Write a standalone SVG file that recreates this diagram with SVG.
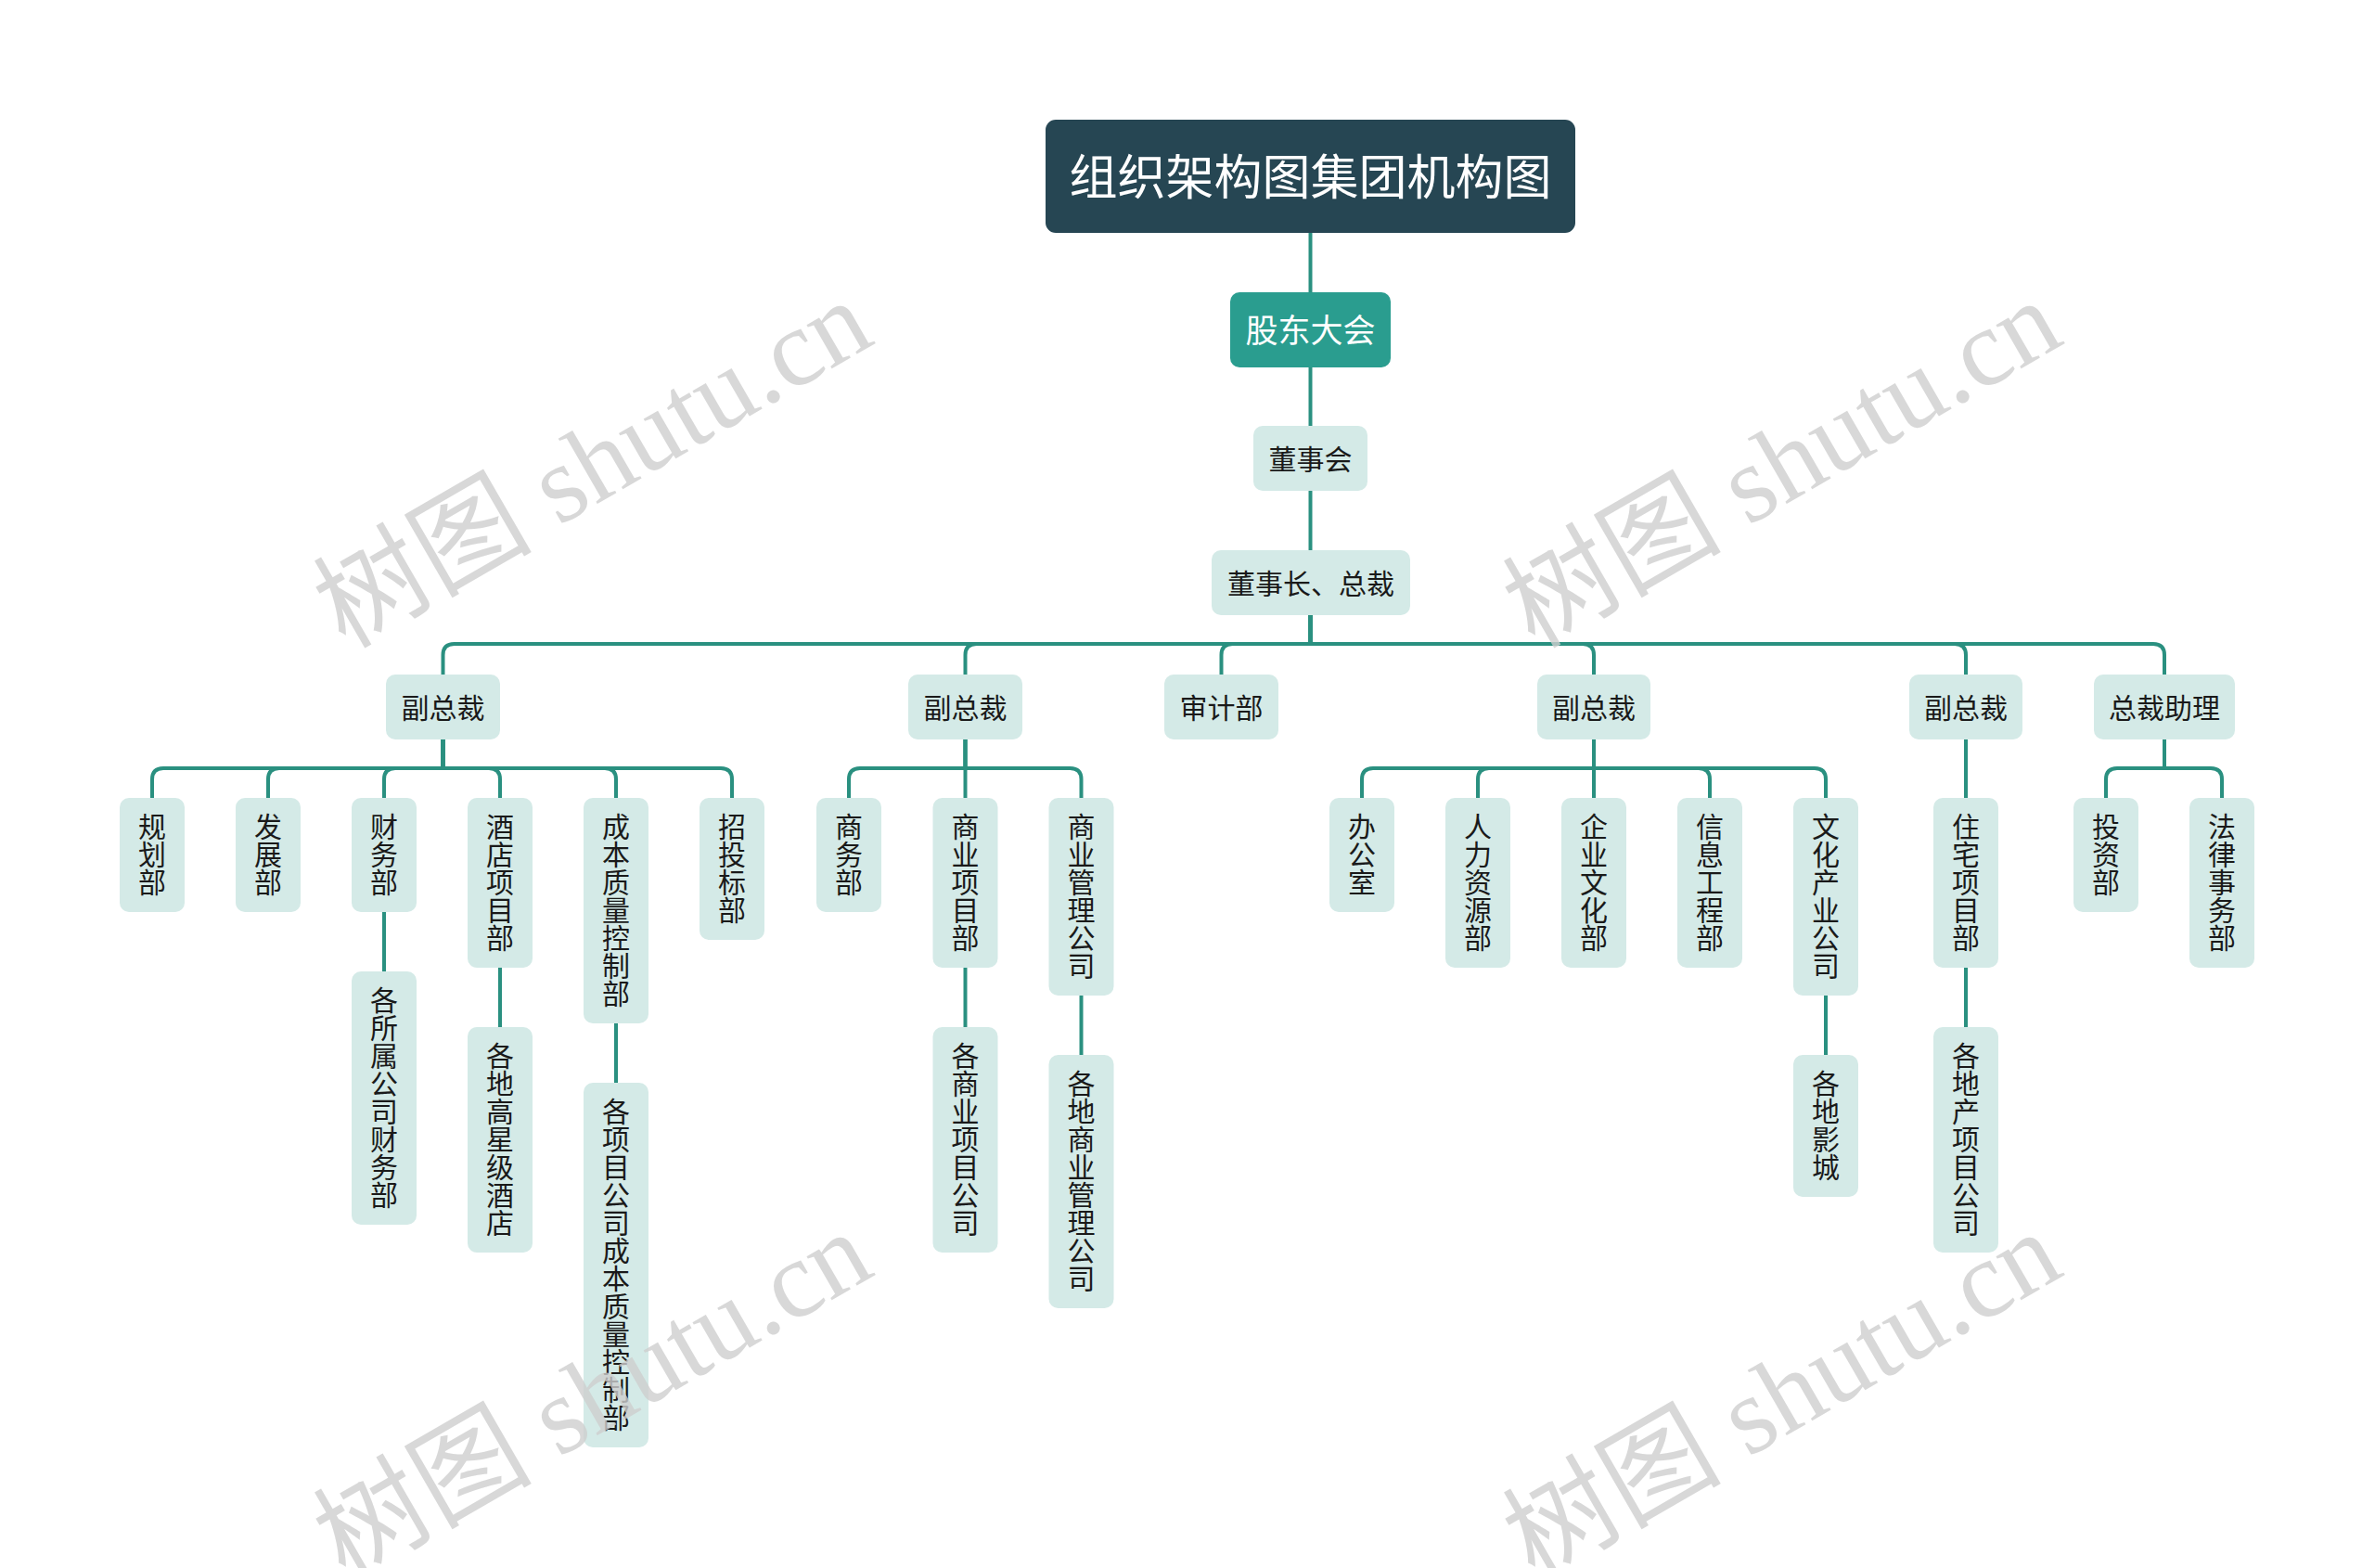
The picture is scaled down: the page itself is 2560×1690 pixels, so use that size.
<svg xmlns="http://www.w3.org/2000/svg" width="2560" height="1690" viewBox="0 0 2560 1690">
<style>
.lt{fill:#d4eae7}
.t{font-family:"Noto Sans CJK SC","Noto Sans",sans-serif;font-size:30px;fill:#1a1a1a;text-anchor:middle}
.v{font-family:"Noto Sans CJK SC","Noto Sans",sans-serif;font-size:30px;fill:#1a1a1a;writing-mode:vertical-rl;text-anchor:start}
.c path{fill:none;stroke:#2a9080;stroke-width:4;stroke-linecap:butt}
.wm{font-family:"Liberation Serif","Noto Sans CJK SC",serif;font-size:118px;fill:#cfcfcf;opacity:0.8}
</style>
<rect width="2560" height="1690" fill="#ffffff"/>
<g class="c" id="connectors">
<path d="M1412.5 251V315"/>
<path d="M1412.5 396V459"/>
<path d="M1412.5 529V593"/>
<path d="M1412.5 663V694H489.5Q477.5 694 477.5 706V727"/>
<path d="M1412.5 663V694H1052.5Q1040.5 694 1040.5 706V727"/>
<path d="M1412.5 663V694H1328.5Q1316.5 694 1316.5 706V727"/>
<path d="M1412.5 663V694H1706Q1718 694 1718 706V727"/>
<path d="M1412.5 663V694H2107Q2119 694 2119 706V727"/>
<path d="M1412.5 663V694H2321Q2333 694 2333 706V727"/>
<path d="M477.5 797V828H176Q164 828 164 840V860"/>
<path d="M477.5 797V828H301Q289 828 289 840V860"/>
<path d="M477.5 797V828H426Q414 828 414 840V860"/>
<path d="M477.5 797V828H527Q539 828 539 840V860"/>
<path d="M477.5 797V828H652Q664 828 664 840V860"/>
<path d="M477.5 797V828H777Q789 828 789 840V860"/>
<path d="M1040.5 797V828H927Q915 828 915 840V860"/>
<path d="M1040.5 797V860"/>
<path d="M1040.5 797V828H1153.5Q1165.5 828 1165.5 840V860"/>
<path d="M1718 797V828H1480Q1468 828 1468 840V860"/>
<path d="M1718 797V828H1605Q1593 828 1593 840V860"/>
<path d="M1718 797V860"/>
<path d="M1718 797V828H1831Q1843 828 1843 840V860"/>
<path d="M1718 797V828H1956Q1968 828 1968 840V860"/>
<path d="M2119 797V860"/>
<path d="M2333 797V828H2282Q2270 828 2270 840V860"/>
<path d="M2333 797V828H2383Q2395 828 2395 840V860"/>
<path d="M414 983V1047"/>
<path d="M539 1043V1107"/>
<path d="M664 1103V1167"/>
<path d="M1040.5 1043V1107"/>
<path d="M1165.5 1073V1137"/>
<path d="M1968 1073V1137"/>
<path d="M2119 1043V1107"/>
</g>

<g id="root"><rect x="1127" y="129" width="571" height="122" rx="11" fill="#264653"/><text class="t" x="1412.5" y="210" style="font-size:52px;fill:#ffffff">组织架构图集团机构图</text></g>
<g id="gudong"><rect x="1326" y="315" width="173" height="81" rx="10" fill="#2a9d8f"/><text class="t" x="1412.5" y="368.5" style="font-size:35px;fill:#ffffff">股东大会</text></g>
<g id="dongshihui"><rect class="lt" x="1351" y="459" width="123" height="70" rx="10"/><text class="t" x="1412.5" y="505.5">董事会</text></g>
<g id="dongshizhang"><rect class="lt" x="1306" y="593" width="214" height="70" rx="10"/><text class="t" x="1413" y="639.5">董事长、总裁</text></g>

<g id="vp1"><rect class="lt" x="416" y="727" width="123" height="70" rx="10"/><text class="t" x="477.5" y="773.5">副总裁</text></g>
<g id="vp2"><rect class="lt" x="979" y="727" width="123" height="70" rx="10"/><text class="t" x="1040.5" y="773.5">副总裁</text></g>
<g id="audit"><rect class="lt" x="1255" y="727" width="123" height="70" rx="10"/><text class="t" x="1316.5" y="773.5">审计部</text></g>
<g id="vp3"><rect class="lt" x="1657" y="727" width="122" height="70" rx="10"/><text class="t" x="1718" y="773.5">副总裁</text></g>
<g id="vp4"><rect class="lt" x="2058" y="727" width="122" height="70" rx="10"/><text class="t" x="2119" y="773.5">副总裁</text></g>
<g id="assist"><rect class="lt" x="2257" y="727" width="152" height="70" rx="10"/><text class="t" x="2333" y="773.5">总裁助理</text></g>

<g id="guihua"><rect class="lt" x="129" y="860" width="70" height="123" rx="10"/><text class="v" x="164" y="875.5">规划部</text></g>
<g id="fazhan"><rect class="lt" x="254" y="860" width="70" height="123" rx="10"/><text class="v" x="289" y="875.5">发展部</text></g>
<g id="caiwu"><rect class="lt" x="379" y="860" width="70" height="123" rx="10"/><text class="v" x="414" y="875.5">财务部</text></g>
<g id="jiudian"><rect class="lt" x="504" y="860" width="70" height="183" rx="10"/><text class="v" x="539" y="875.5">酒店项目部</text></g>
<g id="chengben"><rect class="lt" x="629" y="860" width="70" height="243" rx="10"/><text class="v" x="664" y="875.5">成本质量控制部</text></g>
<g id="zhaotoubiao"><rect class="lt" x="754" y="860" width="70" height="153" rx="10"/><text class="v" x="789" y="875.5">招投标部</text></g>

<g id="shangwu"><rect class="lt" x="880" y="860" width="70" height="123" rx="10"/><text class="v" x="915" y="875.5">商务部</text></g>
<g id="shangyexiangmu"><rect class="lt" x="1005.5" y="860" width="70" height="183" rx="10"/><text class="v" x="1040.5" y="875.5">商业项目部</text></g>
<g id="shangyeguanli"><rect class="lt" x="1130.5" y="860" width="70" height="213" rx="10"/><text class="v" x="1165.5" y="875.5">商业管理公司</text></g>

<g id="bangongshi"><rect class="lt" x="1433" y="860" width="70" height="123" rx="10"/><text class="v" x="1468" y="875.5">办公室</text></g>
<g id="renli"><rect class="lt" x="1558" y="860" width="70" height="183" rx="10"/><text class="v" x="1593" y="875.5">人力资源部</text></g>
<g id="qiye"><rect class="lt" x="1683" y="860" width="70" height="183" rx="10"/><text class="v" x="1718" y="875.5">企业文化部</text></g>
<g id="xinxi"><rect class="lt" x="1808" y="860" width="70" height="183" rx="10"/><text class="v" x="1843" y="875.5">信息工程部</text></g>
<g id="wenhua"><rect class="lt" x="1933" y="860" width="70" height="213" rx="10"/><text class="v" x="1968" y="875.5">文化产业公司</text></g>

<g id="zhuzhai"><rect class="lt" x="2084" y="860" width="70" height="183" rx="10"/><text class="v" x="2119" y="875.5">住宅项目部</text></g>
<g id="touzi"><rect class="lt" x="2235" y="860" width="70" height="123" rx="10"/><text class="v" x="2270" y="875.5">投资部</text></g>
<g id="falv"><rect class="lt" x="2360" y="860" width="70" height="183" rx="10"/><text class="v" x="2395" y="875.5">法律事务部</text></g>

<g id="gesuoshu"><rect class="lt" x="379" y="1047" width="70" height="273" rx="10"/><text class="v" x="414" y="1062.5">各所属公司财务部</text></g>
<g id="gedigaoxing"><rect class="lt" x="504" y="1107" width="70" height="243" rx="10"/><text class="v" x="539" y="1122.5">各地高星级酒店</text></g>
<g id="gexiangmu"><rect class="lt" x="629" y="1167" width="70" height="393" rx="10"/><text class="v" x="664" y="1182.5">各项目公司成本质量控制部</text></g>
<g id="geshangye"><rect class="lt" x="1005.5" y="1107" width="70" height="243" rx="10"/><text class="v" x="1040.5" y="1122.5">各商业项目公司</text></g>
<g id="gedishangye"><rect class="lt" x="1130.5" y="1137" width="70" height="273" rx="10"/><text class="v" x="1165.5" y="1152.5">各地商业管理公司</text></g>
<g id="gediyingcheng"><rect class="lt" x="1933" y="1137" width="70" height="153" rx="10"/><text class="v" x="1968" y="1152.5">各地影城</text></g>
<g id="gedichan"><rect class="lt" x="2084" y="1107" width="70" height="243" rx="10"/><text class="v" x="2119" y="1122.5">各地产项目公司</text></g>

<g id="watermarks">
<text class="wm" x="372" y="700" transform="rotate(-30 372 700)">树图 shutu.cn</text>
<text class="wm" x="1654" y="700" transform="rotate(-30 1654 700)">树图 shutu.cn</text>
<text class="wm" x="372" y="1704" transform="rotate(-30 372 1704)">树图 shutu.cn</text>
<text class="wm" x="1654" y="1704" transform="rotate(-30 1654 1704)">树图 shutu.cn</text>
</g>
</svg>
